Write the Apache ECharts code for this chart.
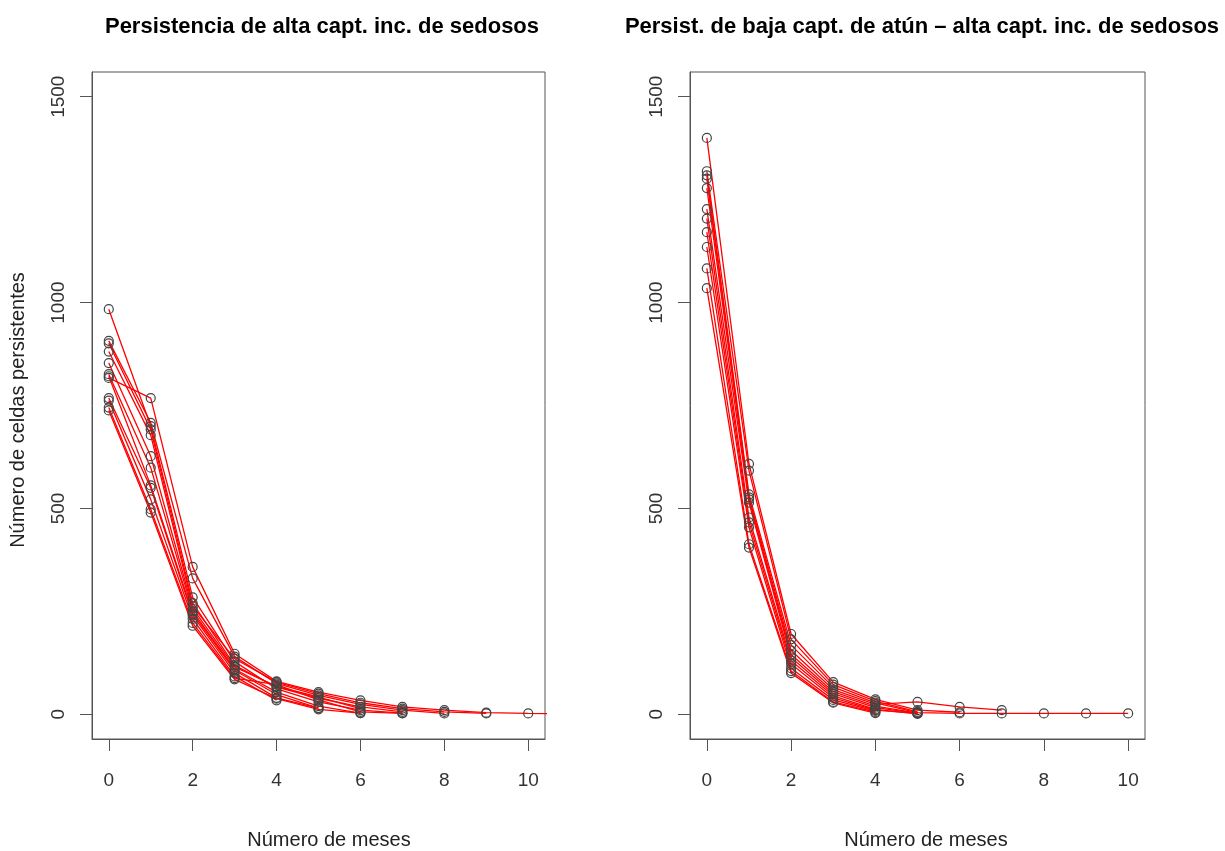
<!DOCTYPE html>
<html><head><meta charset="utf-8">
<script src="https://cdn.jsdelivr.net/npm/echarts@6/dist/echarts.min.js"></script>
<style>html,body{margin:0;padding:0;background:#fff}#c{width:1225px;height:851px}</style>
</head><body><div id="c"></div>
<script>
const months = [0,1,2,3,4,5,6,7,8,9,10,11];
const xTicks = [0,2,4,6,8,10];
const yTicks = [0,500,1000,1500];
const titleLeft = 'Persistencia de alta capt. inc. de sedosos';
const titleRight = 'Persist. de baja capt. de atún – alta capt. inc. de sedosos';
const xName = 'Número de meses';
const yName = 'Número de celdas persistentes';

// Left panel curves (values by month)
const L1 = [984, 700, 284, 128, 62, 30, 10, 3];
const L2 = [907, 708, 330, 140, 75, 46, 24, 10, 2];
const L3 = [901, 692, 270, 119, 66, 39, 18, 6];
const L4 = [881, 678, 262, 135, 78, 50, 28, 14, 6, 2];
const L5 = [853, 627, 257, 115, 68, 42, 14];
const L6 = [826, 599, 250, 110, 54, 20, 3];
const L7 = [821, 556, 245, 107, 48, 15];
const L8 = [817, 768, 358, 147, 80, 54, 34, 18, 10, 4, 2, 1];
const L9 = [768, 550, 240, 100, 40, 15];
const L10 = [762, 522, 232, 92, 34];
const L11 = [745, 498, 222, 88, 72, 35, 6, 2];
const L12 = [738, 490, 215, 85, 38, 12, 3];

// Right panel curves
const R1 = [1400, 608, 195, 78, 36, 10, 5];
const R2 = [1319, 592, 182, 72, 32, 6];
const R3 = [1309, 534, 168, 66, 28, 4, 2, 2, 2, 2, 2];
const R4 = [1301, 527, 155, 60, 24, 30, 18, 10];
const R5 = [1278, 522, 145, 55, 20, 3];
const R6 = [1227, 514, 138, 50, 16, 2];
const R7 = [1204, 478, 130, 45, 12, 1];
const R8 = [1171, 466, 122, 40, 10, 2];
const R9 = [1135, 454, 112, 35, 8];
const R10 = [1083, 413, 105, 30, 5];
const R11 = [1035, 405, 100, 28, 3];

const leftCurves = [L1,L2,L3,L4,L5,L6,L7,L8,L9,L10,L11,L12];
const rightCurves = [R1,R2,R3,R4,R5,R6,R7,R8,R9,R10,R11];

const FONT = 'Liberation Sans, Arial, sans-serif';
const axisGray = '#555';

function mkX(g){
  return {type:'value', gridIndex:g, min:-0.4, max:10.4,
    axisLine:{show:true, onZero:false, lineStyle:{color:axisGray, width:1}},
    splitLine:{show:false},
    axisTick:{show:true, length:12, customValues:xTicks, lineStyle:{color:axisGray, width:1}},
    axisLabel:{customValues:xTicks, margin:32, fontSize:19, color:'#333', fontFamily:FONT,
      formatter:v=>String(v)}};
}
function mkY(g){
  return {type:'value', gridIndex:g, min:-60, max:1560,
    axisLine:{show:true, onZero:false, lineStyle:{color:axisGray, width:1}},
    splitLine:{show:false},
    axisTick:{show:true, length:12, customValues:yTicks, lineStyle:{color:axisGray, width:1}},
    axisLabel:{customValues:yTicks, rotate:90, margin:24, fontSize:19, color:'#333', fontFamily:FONT,
      formatter:v=>String(v)}};
}
function mkSeries(arr, g){
  return {type:'line', xAxisIndex:g, yAxisIndex:g, clip:true,
    data: arr.map((v,i)=>[months[i], v]),
    symbol:'circle', symbolSize:9, showSymbol:true,
    lineStyle:{color:'#ff0000', width:1.3},
    itemStyle:{color:'rgba(0,0,0,0)', borderColor:'#444', borderWidth:1.2},
    emphasis:{disabled:true}, silent:true, animation:false};
}

const chart = echarts.init(document.getElementById('c'), null, {renderer:'canvas'});
chart.setOption({
  animation:false,
  backgroundColor:'#fff',
  grid:[
    {left:92, top:72, width:453, height:667, show:true, borderColor:axisGray, borderWidth:1, backgroundColor:'transparent'},
    {left:690, top:72, width:455, height:667, show:true, borderColor:axisGray, borderWidth:1, backgroundColor:'transparent'}
  ],
  xAxis:[mkX(0), mkX(1)],
  yAxis:[mkY(0), mkY(1)],
  series: leftCurves.map(a=>mkSeries(a,0)).concat(rightCurves.map(a=>mkSeries(a,1))),
  graphic:[
    {type:'text', x:322, y:27, style:{text:titleLeft, textAlign:'center', textVerticalAlign:'middle', font:'bold 22px '+FONT, fill:'#000'}},
    {type:'text', x:922, y:27, style:{text:titleRight, textAlign:'center', textVerticalAlign:'middle', font:'bold 22px '+FONT, fill:'#000'}},
    {type:'text', x:329, y:840, style:{text:xName, textAlign:'center', textVerticalAlign:'middle', font:'20px '+FONT, fill:'#222'}},
    {type:'text', x:926, y:840, style:{text:xName, textAlign:'center', textVerticalAlign:'middle', font:'20px '+FONT, fill:'#222'}},
    {type:'text', x:18, y:410, rotation:Math.PI/2, style:{text:yName, textAlign:'center', textVerticalAlign:'middle', font:'20px '+FONT, fill:'#222'}}
  ]
});
</script></body></html>
